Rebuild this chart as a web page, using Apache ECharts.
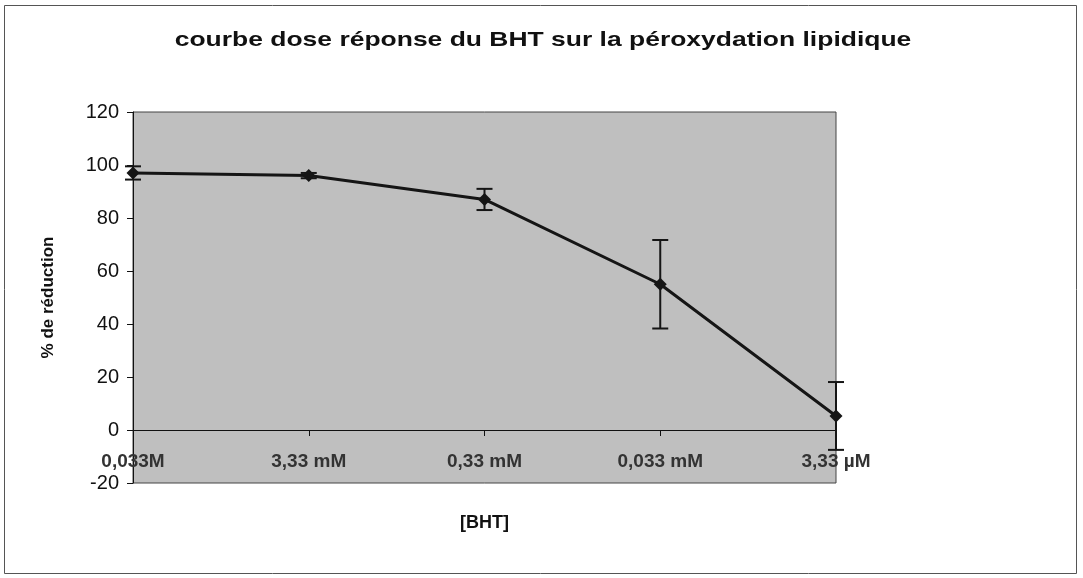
<!DOCTYPE html>
<html>
<head>
<meta charset="utf-8">
<script src="https://cdn.jsdelivr.net/npm/echarts@6/dist/echarts.min.js"></script>
<style>
  html, body { margin: 0; padding: 0; background: #ffffff; }
  #chart { width: 1083px; height: 578px; }
</style>
</head>
<body>
<div id="chart"></div>
<script>
// BHT concentrations (serial dilutions)
const concentrations = ['0,033M', '3,33 mM', '0,33 mM', '0,033 mM', '3,33 µM'];
// mean % reduction of lipid peroxidation
const reduction = [97, 96, 87, 55, 5.3];
// standard deviation for each concentration
const errors = [2.5, 1, 4, 16.7, 12.8];
// y-axis range and step
const yMin = -20, yMax = 120, yStep = 20;

const errorData = reduction.map((v, i) => [i, v - errors[i], v + errors[i]]);

const chart = echarts.init(document.getElementById('chart'));

const font = '"Liberation Sans", Arial, sans-serif';

// plot box
const gridTop = 112, gridBottom = 95, chartH = 578;
const plotH = chartH - gridTop - gridBottom;
// the category axis sits on the y = 0 line
const zeroShift = plotH * (0 - yMin) / (yMax - yMin);

chart.setOption({
  backgroundColor: '#ffffff',
  animation: false,
  graphic: [
    {
      type: 'rect',
      shape: { x: 4.5, y: 5.5, width: 1072, height: 568 },
      style: { fill: 'none', stroke: '#555', lineWidth: 1 },
      silent: true
    },
    {
      type: 'text',
      x: 543, y: 40,
      scaleX: 1.26,
      style: {
        text: 'courbe dose réponse du BHT sur la péroxydation lipidique',
        fontFamily: font, fontSize: 21, fontWeight: 'bold', fill: '#111',
        textAlign: 'center', textVerticalAlign: 'middle'
      },
      silent: true
    }
  ],
  grid: {
    left: 133, right: 247, top: gridTop, bottom: gridBottom,
    outerBoundsMode: 'none',
    containLabel: false,
    show: true,
    backgroundColor: '#bfbfbf',
    borderColor: '#444',
    borderWidth: 1
  },
  xAxis: {
    type: 'category',
    data: concentrations,
    boundaryGap: false,
    position: 'bottom',
    offset: -zeroShift,
    name: '[BHT]',
    nameLocation: 'middle',
    nameGap: 84,
    nameTextStyle: { fontFamily: font, fontSize: 18, fontWeight: 'bold', color: '#111' },
    axisLine: { onZero: false, lineStyle: { color: '#111', width: 1 } },
    axisTick: { show: true, inside: false, length: 6, lineStyle: { color: '#111' } },
    axisLabel: {
      margin: 22, interval: 0,
      fontFamily: font, fontSize: 19, fontWeight: 'bold', color: '#333'
    },
    splitLine: { show: false }
  },
  yAxis: {
    type: 'value',
    min: yMin, max: yMax, interval: yStep,
    name: '% de réduction',
    nameLocation: 'middle',
    nameGap: 76,
    nameTextStyle: { fontFamily: font, fontSize: 17, fontWeight: 'bold', color: '#111' },
    axisLine: { show: true, lineStyle: { color: '#111', width: 1 } },
    axisTick: { show: true, length: 6, lineStyle: { color: '#111' } },
    axisLabel: { margin: 14, fontFamily: font, fontSize: 20, color: '#111' },
    splitLine: { show: false }
  },
  series: [
    {
      type: 'line',
      data: reduction,
      symbol: 'diamond',
      symbolSize: 13,
      lineStyle: { color: '#151515', width: 3 },
      itemStyle: { color: '#151515' },
      z: 3
    },
    {
      type: 'custom',
      data: errorData,
      z: 4,
      renderItem: function (params, api) {
        const x = api.value(0);
        const lo = api.coord([x, api.value(1)]);
        const hi = api.coord([x, api.value(2)]);
        const half = 8;
        const style = { stroke: '#151515', lineWidth: 2 };
        return {
          type: 'group',
          children: [
            { type: 'line', shape: { x1: hi[0], y1: hi[1], x2: lo[0], y2: lo[1] }, style: style },
            { type: 'line', shape: { x1: hi[0] - half, y1: hi[1], x2: hi[0] + half, y2: hi[1] }, style: style },
            { type: 'line', shape: { x1: lo[0] - half, y1: lo[1], x2: lo[0] + half, y2: lo[1] }, style: style }
          ]
        };
      }
    }
  ]
});
</script>
</body>
</html>
